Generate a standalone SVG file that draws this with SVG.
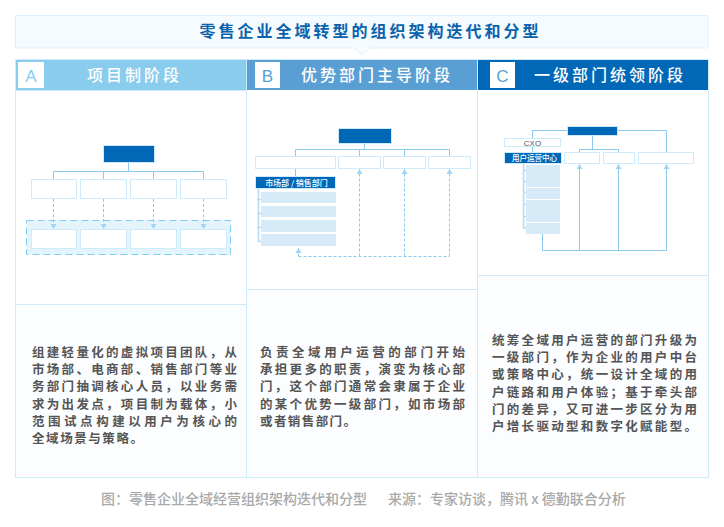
<svg xmlns="http://www.w3.org/2000/svg" width="724" height="527" viewBox="0 0 724 527">
<style>
.cjk{font-family:"Noto Sans CJK SC","Liberation Sans",sans-serif}
.frame{fill:#fff;stroke:#cdebfb;stroke-width:1}
.low{fill:#fbfdff;stroke:#cdebfb;stroke-width:1}
.box{fill:#fff;stroke:#cdebfb;stroke-width:1}
.top{fill:#0068b7;stroke:#cdebfb;stroke-width:1}
.bar{fill:#d6eaf8}
.ln{fill:none;stroke:#89cbec;stroke-width:1}
.ds{fill:none;stroke:#89cbec;stroke-width:1;stroke-dasharray:3 2}
.brk{fill:none;stroke:#b6dcf2;stroke-width:1.600}
.hd{font-size:16px;font-weight:500;fill:#fff;letter-spacing:3px;text-anchor:middle}
.lt{font-size:17px;text-anchor:middle;font-family:"Liberation Sans",sans-serif}
.body{font-size:12.5px;font-weight:700;fill:#555}
.small{fill:#fff;text-anchor:middle;font-weight:500}
</style>
<defs>
<marker id="ah" markerUnits="userSpaceOnUse" markerWidth="6" markerHeight="6" refX="5" refY="3" orient="auto" viewBox="0 0 6 6"><path d="M0 0L5 3L0 6Z" fill="#9ed5f2"/></marker>
</defs>
<g id="title">
<path d="M15.500 15.500H708V48H370L362 55.500L355 48H15.500Z" fill="#f5fbff" stroke="#dff2fc"/>
<text class="cjk" x="370.500" y="37" font-size="16" font-weight="700" fill="#0a62ad" letter-spacing="3" text-anchor="middle">零售企业全域转型的组织架构迭代和分型</text>
</g>
<g id="col-a">
<rect class="frame" x="15.500" y="59.500" width="231" height="418"/>
<rect class="low" x="15.500" y="304.500" width="231" height="173"/>
<rect x="16" y="60" width="230" height="30" fill="#89ccee"/>
<rect x="18" y="62" width="26" height="26" fill="#fff"/>
<text class="lt" x="31" y="82" fill="#89ccee">A</text>
<text class="cjk hd" x="134.500" y="81">项目制阶段</text>
<line x1="15.500" y1="90.500" x2="246.500" y2="90.500" stroke="#cdebfb"/>
<text class="cjk body"><tspan x="32" y="357" textLength="205">组建轻量化的虚拟项目团队，从</tspan><tspan x="32" y="374.200" textLength="205">市场部、电商部、销售部门等业</tspan><tspan x="32" y="391.400" textLength="205">务部门抽调核心人员，以业务需</tspan><tspan x="32" y="408.600" textLength="205">求为出发点，项目制为载体，小</tspan><tspan x="32" y="425.800" textLength="205">范围试点构建以用户为核心的</tspan><tspan x="32" y="443" textLength="111">全域场景与策略。</tspan></text>
</g>
<g id="col-b">
<rect class="frame" x="246.500" y="59.500" width="231" height="418"/>
<rect class="low" x="246.500" y="289.500" width="231" height="188"/>
<rect x="247" y="60" width="230" height="30" fill="#5a9fd4"/>
<rect x="255" y="62" width="25" height="26" fill="#fff"/>
<text class="lt" x="267.500" y="82" fill="#5a9fd4">B</text>
<text class="cjk hd" x="377" y="81">优势部门主导阶段</text>
<text class="cjk body"><tspan x="260" y="357" textLength="205">负责全域用户运营的部门开始</tspan><tspan x="260" y="374.200" textLength="205">承担更多的职责，演变为核心部</tspan><tspan x="260" y="391.400" textLength="205">门，这个部门通常会隶属于企业</tspan><tspan x="260" y="408.600" textLength="205">的某个优势一级部门，如市场部</tspan><tspan x="260" y="425.800" textLength="96">或者销售部门。</tspan></text>
</g>
<g id="col-c">
<rect class="frame" x="477.500" y="59.500" width="231" height="418"/>
<rect class="low" x="477.500" y="275.500" width="231" height="202"/>
<rect x="478" y="60" width="230" height="30" fill="#0068b7"/>
<rect x="490" y="62" width="25" height="26" fill="#fff"/>
<text class="lt" x="502.500" y="82" fill="#5a9fd4">C</text>
<text class="cjk hd" x="610" y="81">一级部门统领阶段</text>
<text class="cjk body"><tspan x="492" y="345" textLength="205">统筹全域用户运营的部门升级为</tspan><tspan x="492" y="362.200" textLength="205">一级部门，作为企业的用户中台</tspan><tspan x="492" y="379.400" textLength="205">或策略中心，统一设计全域的用</tspan><tspan x="492" y="396.600" textLength="205">户链路和用户体验；基于牵头部</tspan><tspan x="492" y="413.800" textLength="205">门的差异，又可进一步区分为用</tspan><tspan x="492" y="431" textLength="205">户增长驱动型和数字化赋能型。</tspan></text>
</g>
<g id="a-group"><rect x="26.500" y="220.500" width="204" height="34" fill="#e3f4fd" stroke="#7fcdf2" stroke-dasharray="7 4"/></g>
<g id="connectors">
<path class="ln" d="M128.500 162V171.500M53.500 180V171.500H203.500V180M103.500 171.500V180M153.500 171.500V180"/>
<path class="ds" d="M53.500 199V229" marker-end="url(#ah)"/><path class="ds" d="M103.500 199V229" marker-end="url(#ah)"/><path class="ds" d="M153.500 199V229" marker-end="url(#ah)"/><path class="ds" d="M203.500 199V229" marker-end="url(#ah)"/>
<path class="ln" d="M364.500 143.500V149.500M295.500 156V149.500H449.500V156M359.500 149.500V156M404.500 149.500V156M295.500 168V176"/>
<path class="ds" d="M298.500 256.500H449.500"/>
<path class="ds" d="M298.500 256.500V248" marker-end="url(#ah)"/><path class="ds" d="M359.500 256.500V169" marker-end="url(#ah)"/><path class="ds" d="M404.500 256.500V169" marker-end="url(#ah)"/><path class="ds" d="M449.500 256.500V169" marker-end="url(#ah)"/>
<path class="brk" d="M258.500 189V241.500H261M257 199.500H261M257 213.500H261M257 227.500H261"/>
<path class="ln" d="M567 130.500H532.500V152M617 130.500H666.500V152M592.500 135.500V149.500M579.500 152V149.500H618.500V152"/>
<path class="ln" d="M542.500 234V250.500H666.500"/>
<path class="ln" d="M579.500 250.500V164" marker-end="url(#ah)"/><path class="ln" d="M618.500 250.500V164" marker-end="url(#ah)"/><path class="ln" d="M666.500 250.500V164" marker-end="url(#ah)"/>
<path class="brk" d="M523.500 164V228H526M523 170.500H526M523 181.500H526M523 192.500H526M523 204.500H526M523 216.500H526"/>
</g>
<g id="a-root"><rect class="top" x="103.500" y="145.500" width="51" height="17"/></g>
<g id="a-n1"><rect class="box" x="31.500" y="179.500" width="45" height="19"/></g>
<g id="a-n2"><rect class="box" x="80.500" y="179.500" width="46" height="19"/></g>
<g id="a-n3"><rect class="box" x="130.500" y="179.500" width="46" height="19"/></g>
<g id="a-n4"><rect class="box" x="180.500" y="179.500" width="46" height="19"/></g>
<g id="a-m1"><rect class="box" x="31.500" y="229.500" width="45" height="19"/></g>
<g id="a-m2"><rect class="box" x="80.500" y="229.500" width="46" height="19"/></g>
<g id="a-m3"><rect class="box" x="130.500" y="229.500" width="46" height="19"/></g>
<g id="a-m4"><rect class="box" x="180.500" y="229.500" width="46" height="19"/></g>
<g id="b-root"><rect class="top" x="338.500" y="128.500" width="53" height="15"/></g>
<g id="b-n1"><rect class="box" x="255.500" y="156.500" width="80" height="12"/></g>
<g id="b-n2"><rect class="box" x="338.500" y="156.500" width="42" height="12"/></g>
<g id="b-n3"><rect class="box" x="383.500" y="156.500" width="42" height="12"/></g>
<g id="b-n4"><rect class="box" x="428.500" y="156.500" width="42" height="12"/></g>
<g id="b-head"><rect class="top" x="255.500" y="176.500" width="80" height="12"/><text class="cjk small" x="296.500" y="186" font-size="8">市场部 / 销售部门</text></g>
<g id="b-bars"><rect class="bar" x="261" y="192" width="75" height="11"/><rect class="bar" x="261" y="206" width="75" height="11"/><rect class="bar" x="261" y="220" width="75" height="12"/><rect class="bar" x="261" y="234" width="75" height="12"/></g>
<g id="c-root"><rect class="top" x="567.500" y="126.500" width="50" height="9"/></g>
<g id="c-cxo"><rect class="box" x="504.500" y="138.500" width="56" height="8"/><text x="532.500" y="145.500" font-size="8" text-anchor="middle" fill="#555" font-family="Liberation Sans,sans-serif">CXO</text></g>
<g id="c-head"><rect class="top" x="504.500" y="152.500" width="57" height="11"/><text class="cjk small" x="534.500" y="161" font-size="7.500">用户运营中心</text></g>
<g id="c-n1"><rect class="box" x="564.500" y="152.500" width="35" height="11"/></g>
<g id="c-n2"><rect class="box" x="603.500" y="152.500" width="31" height="11"/></g>
<g id="c-n3"><rect class="box" x="638.500" y="152.500" width="55" height="11"/></g>
<g id="c-bars"><rect class="bar" x="526" y="165" width="34" height="22"/><rect class="bar" x="526" y="188" width="34" height="11"/><rect class="bar" x="526" y="200" width="34" height="22"/><rect class="bar" x="526" y="223" width="34" height="11"/></g>
<text id="caption" class="cjk" x="101" y="504" font-size="14" font-weight="500" fill="#a9a9a9">图：零售企业全域经营组织架构迭代和分型</text>
<text class="cjk" x="388" y="504" font-size="14" font-weight="500" fill="#a9a9a9">来源：专家访谈，腾讯 x 德勤联合分析</text>
</svg>
